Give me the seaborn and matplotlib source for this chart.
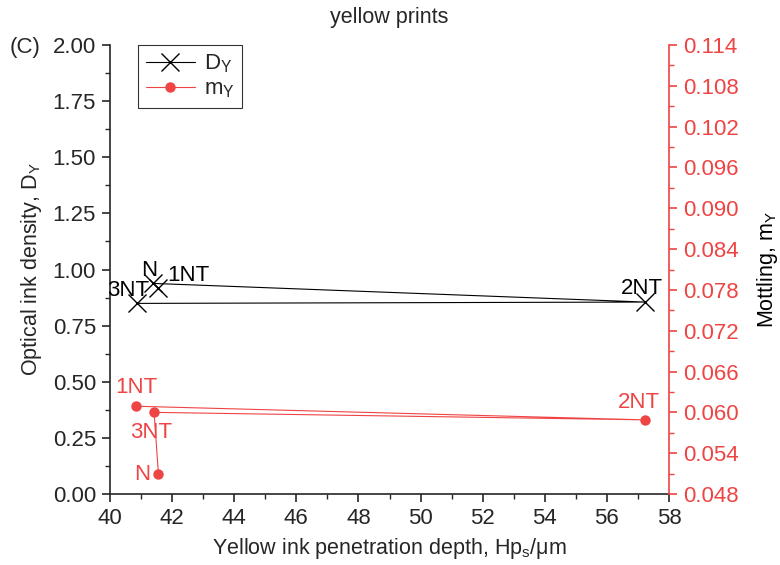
import matplotlib
matplotlib.use("Agg")
import matplotlib.pyplot as plt
import seaborn as sns
import pandas as pd
from matplotlib.ticker import MultipleLocator, FormatStrFormatter
from matplotlib.lines import Line2D

# Data (drawing order as connected in the reference)
depth_D = [40.86, 57.22, 41.39, 41.56]
density_D = [0.849, 0.855, 0.938, 0.916]
labels_D = ["3NT", "2NT", "N", "1NT"]

depth_m = [40.84, 57.22, 41.42, 41.56]
mottling_m = [0.0609, 0.0589, 0.0600, 0.0509]
labels_m = ["1NT", "2NT", "3NT", "N"]

RED = "#ef4444"
FS_TICK = 16
FS_LAB = 15.5

sns.set_style("ticks")
plt.rcParams["font.family"] = ["Liberation Sans", "DejaVu Sans"]
plt.rcParams["mathtext.fontset"] = "custom"
plt.rcParams["mathtext.rm"] = "Liberation Sans"
plt.rcParams["mathtext.it"] = "Liberation Sans:italic"
plt.rcParams["mathtext.default"] = "regular"

fig = plt.figure(figsize=(7.8, 5.65), dpi=100)
ax = fig.add_axes([110/780, 1-494/565, 559/780, 449/565])
ax2 = ax.twinx()

dfD = pd.DataFrame({"x": depth_D, "y": density_D})
dfm = pd.DataFrame({"x": depth_m, "y": mottling_m})

sns.lineplot(data=dfD, x="x", y="y", sort=False, estimator=None, ax=ax,
             color="black", lw=0.8, marker="x", markersize=13,
             markeredgewidth=1.0, markeredgecolor="black")
sns.lineplot(data=dfm, x="x", y="y", sort=False, estimator=None, ax=ax2,
             color=RED, lw=0.8, marker="o", markersize=7.5,
             markeredgewidth=0, markerfacecolor=RED)

ax.set_xlim(40, 58)
ax.set_ylim(0, 2.0)
ax2.set_ylim(0.048, 0.114)

ax.xaxis.set_major_locator(MultipleLocator(2))
ax.xaxis.set_minor_locator(MultipleLocator(1))
ax.yaxis.set_major_locator(MultipleLocator(0.25))
ax.yaxis.set_minor_locator(MultipleLocator(0.125))
ax.yaxis.set_major_formatter(FormatStrFormatter("%.2f"))
ax2.yaxis.set_major_locator(MultipleLocator(0.006))
ax2.yaxis.set_minor_locator(MultipleLocator(0.003))
ax2.yaxis.set_major_formatter(FormatStrFormatter("%.3f"))

for a in (ax, ax2):
    a.spines["top"].set_visible(False)
ax.spines["right"].set_visible(False)
ax2.spines["left"].set_visible(False)
ax2.spines["bottom"].set_visible(False)
ax2.spines["right"].set_color(RED)
for s in ("left", "bottom"):
    ax.spines[s].set_linewidth(1.2)
ax2.spines["right"].set_linewidth(1.2)

ax.tick_params(axis="both", which="major", length=6, width=1.2, labelsize=FS_TICK,
               direction="out", pad=4)
ax.tick_params(axis="both", which="minor", length=3.5, width=1.0, direction="out")
ax2.tick_params(axis="y", which="major", length=6, width=1.2, labelsize=FS_TICK,
                colors=RED, direction="out", pad=4)
ax2.tick_params(axis="y", which="minor", length=3.5, width=1.0, colors=RED, direction="out")

ax.set_xlabel("Yellow ink penetration depth, Hp$_s$/μm", fontsize=FS_LAB, labelpad=5)
ax.set_ylabel("Optical ink density, D$_Y$", fontsize=FS_LAB, labelpad=6)
ax2.set_ylabel("Mottling, m$_Y$", fontsize=FS_LAB, labelpad=12, color="black")
ax.set_title("yellow prints", fontsize=FS_LAB, pad=16)
fig.text(10/780, 1-47/565, "(C)", fontsize=FS_TICK, va="center", ha="left")

# point labels: density
offD = {"3NT": (-6, 2, "center", "bottom"), "2NT": (-2, 2, "center", "bottom"),
        "N": (-3, 2, "center", "bottom"), "1NT": (6, 2, "left", "bottom")}
for x, y, lab in zip(depth_D, density_D, labels_D):
    dx, dy, ha, va = offD[lab]
    ax.annotate(lab, (x, y), xytext=(dx, dy), textcoords="offset points",
                ha=ha, va=va, fontsize=FS_TICK, color="black")

offm = {"1NT": (0, 6, "center", "bottom"), "2NT": (-4, 5, "center", "bottom"),
        "3NT": (-2, -7, "center", "top"), "N": (-6, 0, "right", "center")}
for x, y, lab in zip(depth_m, mottling_m, labels_m):
    dx, dy, ha, va = offm[lab]
    ax2.annotate(lab, (x, y), xytext=(dx, dy), textcoords="offset points",
                 ha=ha, va=va, fontsize=FS_TICK, color=RED)

handles = [Line2D([], [], color="black", lw=0.8, marker="x", markersize=13, markeredgewidth=1.0),
           Line2D([], [], color=RED, lw=0.8, marker="o", markersize=7.5, markeredgewidth=0)]
leg = ax.legend(handles, ["D$_Y$", "m$_Y$"], loc="upper left",
                bbox_to_anchor=(0.05, 1.0), fontsize=FS_TICK, frameon=True,
                fancybox=False, edgecolor="black", handlelength=2.2,
                handletextpad=0.4, borderpad=0.35, labelspacing=0.15,
                borderaxespad=0.0)
leg.get_frame().set_linewidth(0.8)

fig.savefig("out.png", dpi=100)
